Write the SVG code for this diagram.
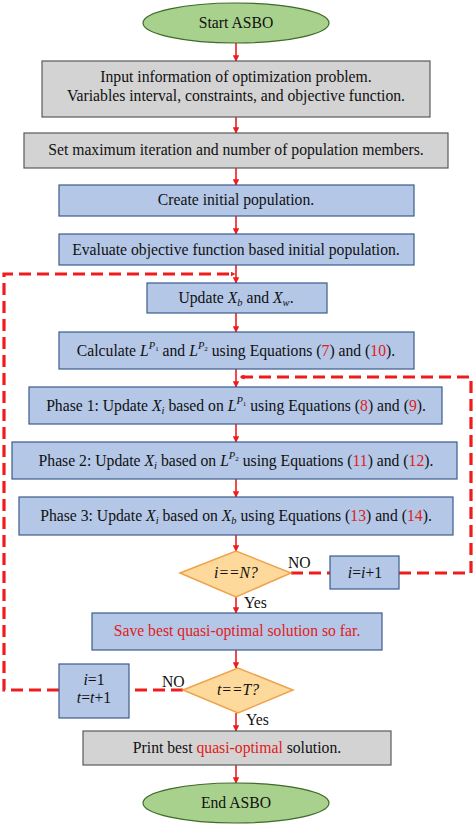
<svg xmlns="http://www.w3.org/2000/svg" width="474" height="829" viewBox="0 0 474 829">
<style>
text{font-family:"Liberation Serif","Times New Roman","DejaVu Serif",serif;font-size:15.7px;fill:#111;text-anchor:middle}
.g{fill:#d3d3d3;stroke:#5a5a5a;stroke-width:1.2}
.b{fill:#b4c7e7;stroke:#3b5a8c;stroke-width:1.2}
.e{fill:#a9d18e;stroke:#3f6a28;stroke-width:1.2}
.d{fill:#fdd99b;stroke:#f0a24a;stroke-width:1.5}
.s{stroke:#ee1c1c;stroke-width:1.6;fill:none}
.dash{stroke:#ee1c1c;stroke-width:3.2;fill:none;stroke-dasharray:12 6}
.i{font-style:italic}
.r{fill:#e02020}
.sub{font-size:10.5px;font-style:italic}
.lbl{text-anchor:start}
</style>
<defs>
<marker id="a" viewBox="0 0 10 10" refX="9" refY="5" markerWidth="5" markerHeight="5" orient="auto" markerUnits="userSpaceOnUse">
<path d="M0,0 L10,5 L0,10 z" fill="#ee1c1c"/>
</marker>
<marker id="ab" viewBox="0 0 10 10" refX="9" refY="5" markerWidth="4" markerHeight="4" orient="auto">
<path d="M0,0 L10,5 L0,10 z" fill="#ee1c1c"/>
</marker>
</defs>
<g id="connectors">
<path class="s" d="M236 43V61" marker-end="url(#ab)"/>
<path class="s" d="M236 117V133" marker-end="url(#ab)"/>
<path class="s" d="M236 168V185" marker-end="url(#ab)"/>
<path class="s" d="M236 216V234" marker-end="url(#ab)"/>
<path class="s" d="M236 265V283" marker-end="url(#ab)"/>
<path class="s" d="M236 313V332" marker-end="url(#ab)"/>
<path class="s" d="M236 369V387" marker-end="url(#ab)"/>
<path class="s" d="M236 424V442" marker-end="url(#ab)"/>
<path class="s" d="M236 479V497" marker-end="url(#ab)"/>
<path class="s" d="M236 535V551" marker-end="url(#ab)"/>
<path class="s" d="M236 597V613" marker-end="url(#ab)"/>
<path class="s" d="M236 650V668" marker-end="url(#ab)"/>
<path class="s" d="M236 713V731" marker-end="url(#ab)"/>
<path class="s" d="M236 765V783" marker-end="url(#ab)"/>
<path class="dash" d="M291 573H330"/>
<path class="dash" d="M399 573H471V377H240" marker-end="url(#a)"/>
<path class="dash" d="M183 690H129"/>
<path class="dash" d="M59 690H4V274H235" marker-end="url(#a)"/>
</g>
<g id="start"><ellipse class="e" cx="236" cy="23" rx="93" ry="20"/><text x="236" y="28">Start ASBO</text></g>
<g id="input"><rect class="g" x="42" y="61" width="388" height="56"/><text x="236" y="82">Input information of optimization problem.</text><text x="236" y="101">Variables interval, constraints, and objective function.</text></g>
<g id="setmax"><rect class="g" x="24" y="133" width="424" height="35"/><text x="236" y="155">Set maximum iteration and number of population members.</text></g>
<g id="create"><rect class="b" x="59" y="185" width="355" height="31"/><text x="236" y="205">Create initial population.</text></g>
<g id="evaluate"><rect class="b" x="59" y="234" width="355" height="31"/><text x="236" y="255">Evaluate objective function based initial population.</text></g>
<g id="update"><rect class="b" x="147" y="283" width="180" height="30"/><text x="236" y="303">Update <tspan class="i">X</tspan><tspan class="sub" dy="3">b</tspan><tspan dy="-3"> and </tspan><tspan class="i">X</tspan><tspan class="sub" dy="3">w</tspan><tspan dy="-3">.</tspan></text></g>
<g id="calc"><rect class="b" x="59" y="332" width="355" height="37"/><text x="236" y="356">Calculate <tspan class="i">L</tspan><tspan class="sub" dy="-7">P</tspan><tspan font-size="7" dy="2">1</tspan><tspan dy="5"> and </tspan><tspan class="i">L</tspan><tspan class="sub" dy="-7">P</tspan><tspan font-size="7" dy="2">2</tspan><tspan dy="5"> using Equations (</tspan><tspan class="r">7</tspan>) and (<tspan class="r">10</tspan>).</text></g>
<g id="phase1"><rect class="b" x="29" y="387" width="413" height="37"/><text x="236" y="411">Phase 1: Update <tspan class="i">X</tspan><tspan class="sub" dy="3">i</tspan><tspan dy="-3"> based on </tspan><tspan class="i">L</tspan><tspan class="sub" dy="-7">P</tspan><tspan font-size="7" dy="2">1</tspan><tspan dy="5"> using Equations (</tspan><tspan class="r">8</tspan>) and (<tspan class="r">9</tspan>).</text></g>
<g id="phase2"><rect class="b" x="12" y="442" width="445" height="37"/><text x="236" y="466">Phase 2: Update <tspan class="i">X</tspan><tspan class="sub" dy="3">i</tspan><tspan dy="-3"> based on </tspan><tspan class="i">L</tspan><tspan class="sub" dy="-7">P</tspan><tspan font-size="7" dy="2">2</tspan><tspan dy="5"> using Equations (</tspan><tspan class="r">11</tspan>) and (<tspan class="r">12</tspan>).</text></g>
<g id="phase3"><rect class="b" x="19" y="497" width="434" height="38"/><text x="236" y="521">Phase 3: Update <tspan class="i">X</tspan><tspan class="sub" dy="3">i</tspan><tspan dy="-3"> based on </tspan><tspan class="i">X</tspan><tspan class="sub" dy="3">b</tspan><tspan dy="-3"> using Equations (</tspan><tspan class="r">13</tspan>) and (<tspan class="r">14</tspan>).</text></g>
<g id="checkN"><path class="d" d="M180 573L236 551L291 573L236 597Z"/><text x="236" y="578" class="i" font-size="13.5">i==N?</text></g>
<g id="inc"><rect class="b" x="330" y="556" width="69" height="33"/><text x="365" y="578"><tspan class="i">i</tspan>=<tspan class="i">i</tspan>+1</text></g>
<g id="save"><rect class="b" x="92" y="613" width="290" height="37"/><text x="237" y="636" class="r">Save best quasi-optimal solution so far.</text></g>
<g id="checkT"><path class="d" d="M183 690L238 668L293 690L238 713Z"/><text x="238" y="695" class="i" font-size="13.5">t==T?</text></g>
<g id="reset"><rect class="b" x="59" y="664" width="70" height="54"/><text x="94" y="685"><tspan class="i">i</tspan>=1</text><text x="94" y="703"><tspan class="i">t</tspan>=<tspan class="i">t</tspan>+1</text></g>
<g id="print"><rect class="g" x="83" y="731" width="308" height="34"/><text x="237" y="753">Print best <tspan class="r">quasi-optimal</tspan> solution.</text></g>
<g id="end"><ellipse class="e" cx="236" cy="803" rx="93" ry="20"/><text x="236" y="808">End ASBO</text></g>
<g id="labels">
<text class="lbl" x="288" y="568">NO</text>
<text class="lbl" x="244" y="608">Yes</text>
<text class="lbl" x="162" y="687">NO</text>
<text class="lbl" x="246" y="725">Yes</text>
</g>
</svg>
